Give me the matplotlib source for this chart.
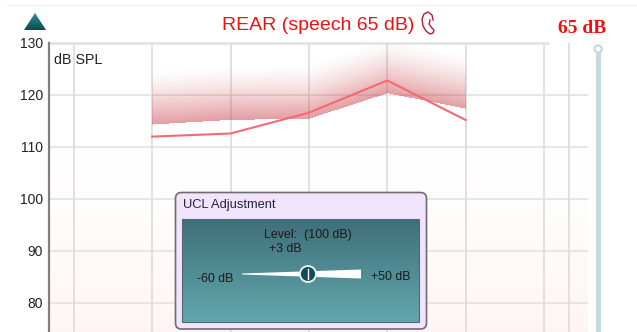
import matplotlib
matplotlib.use('Agg')
import matplotlib.pyplot as plt
import numpy as np
from matplotlib.patches import FancyBboxPatch, Polygon, Circle, Rectangle

W, H = 637, 332

# chart values
freqs = [250, 500, 1000, 2000, 4000]
rear_line = [111.9, 112.5, 116.5, 122.7, 115.1]
band_lower = [114.2, 115.1, 115.3, 120.2, 117.2]
grid_freqs = [125, 250, 500, 1000, 2000, 4000, 8000, 10000]
db_ticks = [80, 90, 100, 110, 120, 130]

plt.rcParams['font.family'] = ['Liberation Sans', 'DejaVu Sans']

fig = plt.figure(figsize=(W / 100, H / 100), dpi=100, facecolor='white')

# main chart, placed by pixels
left, right, top = 48.5, 588, 42.5
ax = fig.add_axes([left / W, 0, (right - left) / W, 1 - top / H])
ax.set_xscale('log', base=2)

# faint pink fade at the bottom of the plot
bg = np.ones((100, 1, 4))
bg[:, :, 1] = 0.93
bg[:, :, 2] = 0.93
bg[:, 0, 3] = np.linspace(0, 0.7, 100) ** 1.5
ax.imshow(bg, extent=(100, 11800, 74, 112), aspect='auto', origin='upper', zorder=0)
ax.set_xlim(100, 11800)
ax.set_ylim(130 - (H - top) / 5.2, 130)

for d in db_ticks[:-1]:
    ax.axhline(d, color='#e4e4e4', lw=1.3, zorder=1)
for f in grid_freqs:
    ax.axvline(f, color='#dedede', lw=1.3, zorder=1)
ax.plot([100, 8300], [130, 130], color='#e2e2e2', lw=1.8, zorder=1, clip_on=False)

# red band, alpha fades upward from its lower edge
xs = np.geomspace(freqs[0], freqs[-1], 316)
ys = np.linspace(112, 130, 95)
low = np.interp(np.log2(xs[:-1]), np.log2(freqs), band_lower)
yc = (ys[:-1] + ys[1:]) / 2
d = yc[:, None] - low[None, :]
rgba = np.zeros((len(yc), len(low), 4))
rgba[:, :, 0] = 200 / 255
rgba[:, :, 1] = 60 / 255
rgba[:, :, 2] = 70 / 255
rgba[:, :, 3] = np.where(d >= 0, 0.5 * np.clip(1 - d / 10.5, 0, 1) ** 1.4, 0)
ax.pcolormesh(xs, ys, rgba, shading='flat', lw=0, rasterized=True, zorder=2)
ax.plot(freqs, rear_line, color='#f56a70', lw=1.5, zorder=3)

ax.set_yticks(db_ticks)
ax.set_xticks([])
ax.minorticks_off()
ax.tick_params(axis='y', length=0, pad=4, labelsize=10, labelcolor='#222222')
for s in ['top', 'right', 'bottom']:
    ax.spines[s].set_visible(False)
ax.spines['left'].set_color('#808080')
ax.spines['left'].set_linewidth(1.6)
ax.patch.set_alpha(0)

# overlay in pixel coordinates for the widgets
ov = fig.add_axes([0, 0, 1, 1], zorder=5)
ov.axis('off')
ov.patch.set_alpha(0)

ov.plot([7, W], [5, 5], color='#f0f0f0', lw=1)
ov.text(54, 60, 'dB SPL', fontsize=10.3, color='#222222', va='center')

# triangle button
tri = Polygon([(24, 30), (35, 13), (46, 30)], closed=True, fc='none', ec='none')
ov.add_patch(tri)
im = ov.imshow(np.linspace(0, 1, 50).reshape(-1, 1), extent=(24, 46, 30, 13), aspect='auto',
               cmap=matplotlib.colors.LinearSegmentedColormap.from_list('t', ['#2f8f94', '#0c4a52']),
               zorder=2)
im.set_clip_path(tri)

# title and ear
ov.text(318, 26, 'REAR (speech 65 dB)', color='#f01010', fontsize=14, ha='center', va='center')
ov.plot([433, 432, 428, 424, 422, 423, 426, 430, 433, 434, 431, 429, 430],
        [20, 15, 12, 14, 19, 26, 31, 34, 33, 30, 27, 24, 20], color='#b02030', lw=1)
ov.text(582.5, 28.5, '65 dB', color='#f01010', fontsize=14, ha='center', va='center',
        family='Liberation Serif', fontweight='bold')

# level slider
ov.add_patch(Rectangle((596, 50), 4.5, H - 50, fc='#c5dcdf', ec='none'))
ov.add_patch(Circle((598.2, 49), 3.6, fc='white', ec='#c0d8da', lw=1.5))

# UCL panel
ov.add_patch(FancyBboxPatch((175.5, 192.5), 251, 136.5, boxstyle='round,pad=0,rounding_size=6',
                            fc='#f1e4fc', ec='#6d6d6d', lw=1.2, zorder=6))
ov.text(183, 205, 'UCL Adjustment', fontsize=9.3, color='#222244', va='center', zorder=8)
teal = matplotlib.colors.LinearSegmentedColormap.from_list('p', ['#3f6f7b', '#62a7ad'])
ov.imshow(np.linspace(0, 1, 100).reshape(-1, 1), extent=(182, 419, 322, 219), aspect='auto',
          cmap=teal, zorder=7)
ov.add_patch(Rectangle((182, 219), 237, 103, fc='none', ec='#4f6a72', lw=0.8, zorder=8))
ov.set_xlim(0, W)
ov.set_ylim(H, 0)

ov.text(263.5, 235, 'Level:  (100 dB)', fontsize=8.9, color='#1a1a1a', va='center', zorder=9)
ov.text(269, 249, '+3 dB', fontsize=8.9, color='#1a1a1a', va='center', zorder=9)
ov.text(197, 279, '-60 dB', fontsize=8.9, color='#1a1a1a', va='center', zorder=9)
ov.text(371, 277, '+50 dB', fontsize=8.9, color='#1a1a1a', va='center', zorder=9)

ov.add_patch(Polygon([(242, 273.5), (361, 269.5), (361, 278.5), (242, 274.5)], closed=True,
                     fc='white', ec='none', zorder=9))
ov.add_patch(Circle((308, 274), 8, fc='#0f4d5a', ec='#e4eeee', lw=1.4, zorder=10))
ov.plot([308, 308], [269, 279], color='white', lw=1, zorder=11)

fig.savefig('out.png', dpi=100)
